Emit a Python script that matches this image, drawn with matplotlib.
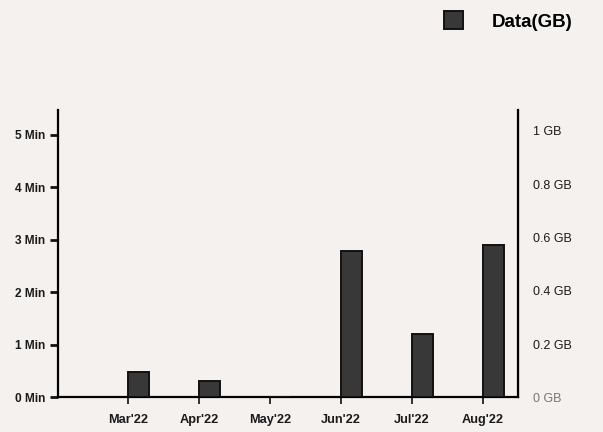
import matplotlib.pyplot as plt
import numpy as np

plt.rcParams['font.family'] = ['Liberation Sans', 'DejaVu Sans']

months = ["Mar'22", "Apr'22", "May'22", "Jun'22", "Jul'22", "Aug'22"]
voice_min = [0, 0, 0, 0, 0, 0]
data_gb = [0.094, 0.06, 0.0, 0.548, 0.237, 0.572]

min_ticks = [0, 1, 2, 3, 4, 5]
min_labels = ['0 Min', '1 Min', '2 Min', '3 Min', '4 Min', '5 Min']
gb_ticks = [0, 0.2, 0.4, 0.6, 0.8, 1.0]
gb_labels = ['0 GB', '0.2 GB', '0.4 GB', '0.6 GB', '0.8 GB', '1 GB']

fig = plt.figure(figsize=(6.03, 4.32), dpi=100)
fig.patch.set_facecolor('#f5f1ef')
ax = fig.add_axes([0.096, 0.08, 0.763, 0.665])
ax.set_facecolor('none')
ax2 = ax.twinx()

x = np.arange(len(months))
w = 0.3

ax.bar(x, voice_min, width=-w, align='edge', color='#d9d9d9',
       edgecolor='#222222', label='Voice(Min)')
ax2.bar(x, data_gb, width=w, align='edge', color='#383838',
        edgecolor='#111111', linewidth=1.4, label='Data(GB)')

ax.set_xlim(-0.99, 5.5)
ax.set_ylim(0, 5.47)
ax2.set_ylim(0, 1.078)

ax.set_xticks(x)
ax.set_xticklabels(months, fontsize=9.2, fontweight='bold', color='#1a1a1a')
ax.set_yticks(min_ticks)
ax.set_yticklabels(min_labels, fontsize=8.6, fontweight='bold', color='#1a1a1a')
ax.tick_params(axis='y', length=6, width=2, pad=3, color='#111111')
ax.tick_params(axis='x', length=5, width=1.2, pad=7, color='#111111')

ax2.set_yticks(gb_ticks)
ax2.set_yticklabels(gb_labels, fontsize=9, color='#1a1a1a')
ax2.get_yticklabels()[0].set_color('#777777')
ax2.tick_params(axis='y', length=0, pad=11)

for a in (ax, ax2):
    a.spines['top'].set_visible(False)
ax.spines['left'].set_linewidth(1.6)
ax.spines['bottom'].set_linewidth(1.6)
ax2.spines['right'].set_linewidth(1.6)
ax2.spines['left'].set_visible(False)
ax2.spines['bottom'].set_visible(False)

h2, l2 = ax2.get_legend_handles_labels()
fig.legend(h2, l2, loc='upper right', bbox_to_anchor=(0.977, 1.013),
           frameon=False, prop={'size': 13.5, 'weight': 'bold'},
           handlelength=1.05, handleheight=1.1, handletextpad=1.5)

fig.savefig('out.png', dpi=100, facecolor=fig.get_facecolor())
